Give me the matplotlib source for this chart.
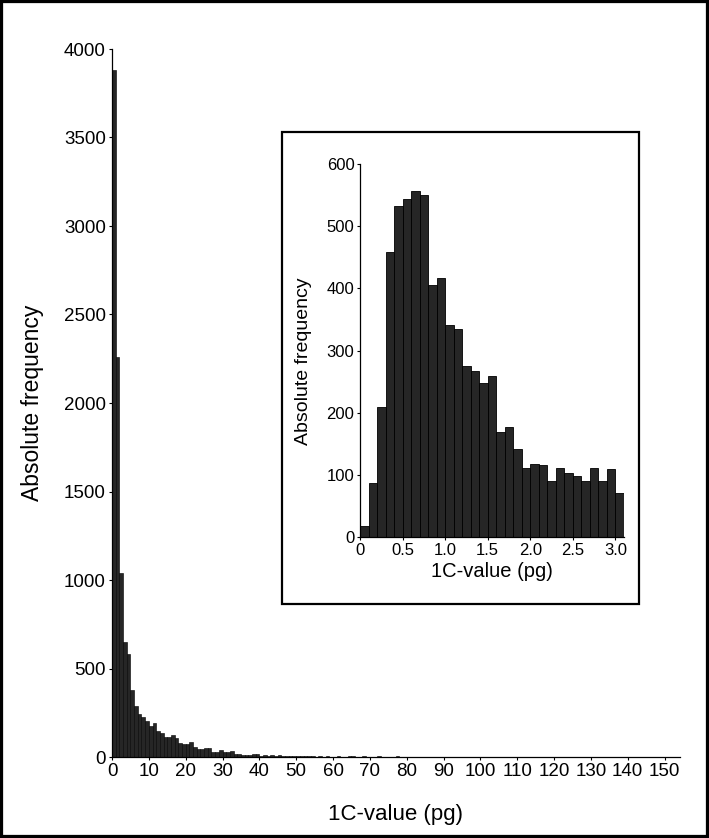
import numpy as np
import matplotlib
matplotlib.use("Agg")
import matplotlib.pyplot as plt
from matplotlib.patches import Rectangle

plt.rcParams['font.family'] = ['Liberation Sans', 'DejaVu Sans']

# Main histogram: 1 pg bins starting at 0
main_bin_width = 1.0
main_counts = [
    3880, 2260, 1040, 651, 582, 378, 288, 243, 224, 201,
    175, 194, 149, 137, 115, 115, 122, 105, 81, 73,
    73, 83, 55, 45, 45, 49, 49, 30, 30, 38,
    28, 30, 32, 17, 17, 11, 11, 9, 15, 15,
    8, 9, 7, 10, 8, 9, 6, 8, 7, 5,
    7, 6, 8, 4, 3, 2, 4, 2, 3, 1,
    2, 3, 1, 2, 4, 3, 2, 1, 3, 2,
    1, 2, 3, 2, 1, 1, 2, 3, 1, 2,
    1, 1, 2, 1, 2, 1, 0, 1, 2, 1,
    1, 0, 1, 2, 1, 1, 0, 1, 1, 2,
    1, 0, 1, 1, 0, 2, 1, 0, 1, 0,
    1, 1, 0, 1, 0, 1, 0, 0, 1, 1,
    0, 1, 0, 1, 0, 0, 1, 0, 1, 0,
    1, 0, 2, 0, 1, 0, 0, 1, 0, 0,
    1, 0, 0, 1, 0, 0, 1, 0, 0, 1,
    0, 1, 0, 1,
]
main_xticks = list(range(0, 151, 10))
main_yticks = list(range(0, 4001, 500))

# Inset histogram: 0.1 pg bins from 0 to 3.1
inset_bin_width = 0.1
inset_counts = [
    18, 88, 210, 458, 532, 544, 557, 550, 405, 416,
    342, 335, 276, 267, 248, 260, 169, 177, 142, 112,
    118, 117, 91, 112, 103, 99, 91, 111, 91, 109, 71,
]
inset_xticks = [0, 0.5, 1.0, 1.5, 2.0, 2.5, 3.0]
inset_xticklabels = ["0", "0.5", "1.0", "1.5", "2.0", "2.5", "3.0"]
inset_yticks = [0, 100, 200, 300, 400, 500, 600]

xlabel = "1C-value (pg)"
ylabel = "Absolute frequency"

bar_face = "#262626"
bar_edge = "#000000"

fig = plt.figure(figsize=(7.09, 8.38), dpi=100)

# Main axes
ax = fig.add_axes([112/709, 81/838, 568/709, 708/838])
x = np.arange(len(main_counts)) * main_bin_width
ax.bar(x, main_counts, width=main_bin_width, align='edge',
       color=bar_face, edgecolor=bar_edge, linewidth=0.4)
ax.set_xlim(0, 154.2)
ax.set_ylim(0, 4000)
ax.set_xticks(main_xticks)
ax.set_yticks(main_yticks)
ax.tick_params(axis='both', labelsize=13.5, length=2.5, width=0.8, pad=2)
for s in ['top', 'right']:
    ax.spines[s].set_visible(False)
for s in ['left', 'bottom']:
    ax.spines[s].set_linewidth(0.9)
ax.set_xlabel(xlabel, fontsize=16, labelpad=17)
ax.set_ylabel(ylabel, fontsize=16.5, labelpad=14)

# Inset frame
fig.add_artist(Rectangle((282/709, 234/838), 357/709, 472/838,
                         transform=fig.transFigure, facecolor='white',
                         edgecolor='black', linewidth=1.6, zorder=2))

# Inset axes
ax2 = fig.add_axes([360/709, (838-537.3)/838, 264/709, 373.3/838], zorder=3)
xi = np.arange(len(inset_counts)) * inset_bin_width
ax2.bar(xi, inset_counts, width=inset_bin_width, align='edge',
        color=bar_face, edgecolor=bar_edge, linewidth=0.6)
ax2.set_xlim(0, 3.1)
ax2.set_ylim(0, 600)
ax2.set_xticks(inset_xticks)
ax2.set_xticklabels(inset_xticklabels)
ax2.set_yticks(inset_yticks)
ax2.tick_params(axis='both', labelsize=12, length=2.5, width=0.8, pad=1.5)
for s in ['top', 'right']:
    ax2.spines[s].set_visible(False)
for s in ['left', 'bottom']:
    ax2.spines[s].set_linewidth(0.9)
ax2.set_xlabel(xlabel, fontsize=14.5, labelpad=3)
ax2.set_ylabel(ylabel, fontsize=14)
ax2.yaxis.set_label_coords(-0.182, 0.471)

# Outer figure border
fig.add_artist(Rectangle((0, 0), 1, 1, transform=fig.transFigure,
                         facecolor='none', edgecolor='black', linewidth=4.5,
                         zorder=10))

fig.savefig("out.png", dpi=100)
